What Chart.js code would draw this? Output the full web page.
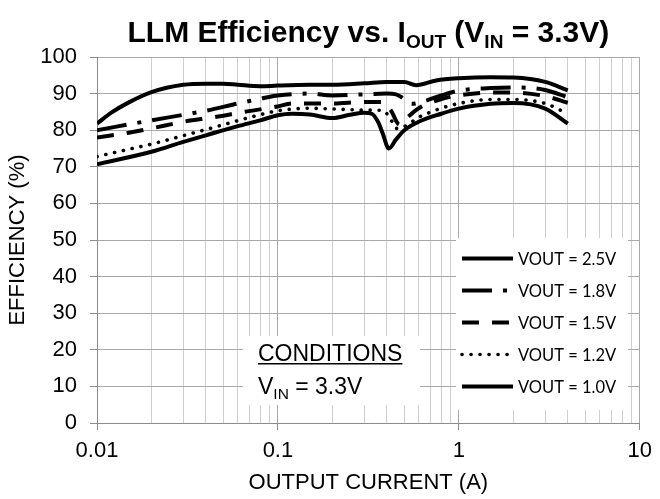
<!DOCTYPE html>
<html>
<head>
<meta charset="utf-8">
<script src="https://cdn.jsdelivr.net/npm/chart.js@4.4.1/dist/chart.umd.min.js"></script>
<style>
  html, body { margin: 0; padding: 0; background: #ffffff; }
  #wrap { width: 660px; height: 499px; }
</style>
</head>
<body>
<div id="wrap"><canvas id="c" width="660" height="499"></canvas></div>
<script>
// ---------------- data ----------------
const seriesLabels = ['VOUT = 2.5V', 'VOUT = 1.8V', 'VOUT = 1.5V', 'VOUT = 1.2V', 'VOUT = 1.0V'];

const i25 = [0.01, 0.012, 0.015, 0.02, 0.03, 0.04, 0.05, 0.06, 0.08, 0.1, 0.15, 0.2, 0.3, 0.4, 0.5, 0.58, 0.75, 1.0, 1.5, 2, 3, 4];
const e25 = [81.8, 84.8, 87.6, 90.4, 92.4, 92.7, 92.7, 92.4, 92.0, 92.2, 92.4, 92.4, 92.8, 93.2, 93.2, 92.3, 93.6, 94.2, 94.5, 94.4, 93.2, 90.9];

const i18 = [0.01, 0.02, 0.03, 0.04, 0.06, 0.08, 0.1, 0.15, 0.2, 0.3, 0.4, 0.45, 0.5, 0.55, 0.65, 0.8, 1.0, 1.5, 2, 3, 4];
const e18 = [80.0, 82.7, 84.2, 85.3, 87.3, 88.6, 89.5, 90.0, 89.5, 89.8, 90.0, 89.8, 88.5, 87.2, 88.0, 89.5, 90.8, 91.5, 91.7, 91.0, 89.0];

const i15 = [0.01, 0.015, 0.02, 0.03, 0.045, 0.065, 0.1, 0.12, 0.15, 0.2, 0.3, 0.38, 0.42, 0.47, 0.52, 0.6, 0.8, 1.0, 1.5, 2, 3, 4];
const e15 = [78.0, 79.3, 80.5, 82.3, 83.6, 85.0, 86.5, 87.3, 87.3, 87.3, 87.7, 87.7, 85.5, 81.5, 83.5, 86.0, 88.5, 89.5, 90.3, 90.3, 89.3, 87.5];

const i12 = [0.01, 0.015, 0.02, 0.03, 0.05, 0.07, 0.1, 0.15, 0.2, 0.3, 0.38, 0.42, 0.45, 0.5, 0.6, 0.8, 1.0, 1.5, 2, 3, 4];
const e12 = [72.8, 74.8, 76.2, 78.5, 81.5, 83.5, 85.3, 86.0, 85.8, 85.5, 85.4, 83.0, 80.5, 81.0, 83.5, 86.0, 87.3, 88.4, 88.4, 87.3, 84.5];

const i10 = [0.01, 0.02, 0.03, 0.04, 0.06, 0.08, 0.1, 0.12, 0.15, 0.2, 0.25, 0.3, 0.33, 0.36, 0.38, 0.41, 0.45, 0.5, 0.6, 0.8, 1.0, 1.5, 2, 3, 4];
const e10 = [70.7, 74.1, 76.8, 78.6, 81.1, 82.7, 84.1, 84.5, 84.3, 83.3, 84.2, 84.8, 84.5, 82.0, 79.0, 75.0, 77.5, 80.0, 82.3, 84.5, 85.9, 87.2, 87.4, 85.9, 81.8];

const xDecades = [0.01, 0.1, 1, 10];
const xDecadeLabels = ['0.01', '0.1', '1', '10'];
const xMinorMultipliers = [2, 3, 4, 5, 6, 7, 8, 9];
const yTickLabels = [0, 10, 20, 30, 40, 50, 60, 70, 80, 90, 100];

const conditionsTitle = 'CONDITIONS';
const conditionsLine = ['V', 'IN', ' = 3.3V'];
const titleParts = [['LLM Efficiency vs. I', false], ['OUT', true], [' (V', false], ['IN', true], [' = 3.3V)', false]];
const xTitle = 'OUTPUT CURRENT (A)';
const yTitle = 'EFFICIENCY (%)';

// ---------------- styles ----------------
const styles = [
  { dash: [], cap: 'butt', width: 4 },
  { dash: [30, 11, 4, 11], cap: 'butt', width: 4 },
  { dash: [17, 13], cap: 'butt', width: 4 },
  { dash: [0.1, 8.9], cap: 'round', width: 3.6 },
  { dash: [], cap: 'butt', width: 4 }
];

const seriesX = [i25, i18, i15, i12, i10];
const seriesY = [e25, e18, e15, e12, e10];

const datasets = seriesLabels.map((lab, k) => ({
  label: lab,
  data: seriesX[k].map((x, j) => ({ x: x, y: seriesY[k][j] })),
  borderColor: '#000000',
  backgroundColor: '#000000',
  borderWidth: styles[k].width,
  borderDash: styles[k].dash,
  borderCapStyle: styles[k].cap,
  borderJoinStyle: 'round',
  pointRadius: 0,
  fill: false,
  cubicInterpolationMode: 'monotone'
}));

const majorSet = new Set(xDecades);

// ---------------- plugins ----------------
const decorPlugin = {
  id: 'decor',
  beforeDatasetsDraw(chart) {
    const ctx = chart.ctx;
    ctx.save();
    ctx.fillStyle = '#ffffff';
    ctx.fillRect(456, 238, 172, 172);   // legend box
    ctx.fillRect(243, 336, 177, 69);    // conditions box
    ctx.restore();
  },
  afterDatasetsDraw(chart) {
    const ctx = chart.ctx;
    ctx.save();
    const x0 = 462, x1 = 513, tx = 518;
    seriesLabels.forEach((lab, k) => {
      const y = 258.5 + k * 32;
      ctx.beginPath();
      ctx.strokeStyle = '#000';
      ctx.lineWidth = styles[k].width;
      ctx.lineCap = styles[k].cap;
      ctx.setLineDash(styles[k].dash);
      ctx.moveTo(x0, y);
      ctx.lineTo(x1, y);
      ctx.stroke();
      ctx.setLineDash([]);
      ctx.fillStyle = '#000';
      ctx.font = '16.5px Lato';
      ctx.textBaseline = 'middle';
      ctx.textAlign = 'left';
      ctx.fillText(lab, tx, y + 1);
    });
    ctx.fillStyle = '#000';
    ctx.font = '23px "Liberation Sans", Arial';
    ctx.textBaseline = 'alphabetic';
    ctx.textAlign = 'left';
    const cx = 258;
    ctx.fillText(conditionsTitle, cx, 361);
    const w = ctx.measureText(conditionsTitle).width;
    ctx.fillRect(cx, 363, w, 1.5);
    let px = cx;
    ctx.fillText(conditionsLine[0], px, 394);
    px += ctx.measureText(conditionsLine[0]).width;
    ctx.font = '15.5px "Liberation Sans", Arial';
    ctx.fillText(conditionsLine[1], px, 399);
    px += ctx.measureText(conditionsLine[1]).width;
    ctx.font = '23px "Liberation Sans", Arial';
    ctx.fillText(conditionsLine[2], px, 394);
    ctx.restore();
  },
  afterDraw(chart) {
    const ctx = chart.ctx;
    ctx.save();
    const big = 'bold 30px "Liberation Sans", Arial';
    const small = 'bold 19px "Liberation Sans", Arial';
    let total = 0;
    titleParts.forEach(([t, sub]) => { ctx.font = sub ? small : big; total += ctx.measureText(t).width; });
    const area = chart.chartArea;
    let x = (area.left + area.right) / 2 - total / 2;
    const base = 42;
    ctx.fillStyle = '#000';
    ctx.textBaseline = 'alphabetic';
    ctx.textAlign = 'left';
    titleParts.forEach(([t, sub]) => {
      ctx.font = sub ? small : big;
      ctx.fillText(t, x, sub ? base + 6 : base);
      x += ctx.measureText(t).width;
    });
    ctx.restore();
  }
};

new Chart(document.getElementById('c'), {
  type: 'line',
  data: { datasets: datasets },
  options: {
    responsive: false,
    devicePixelRatio: 1,
    animation: false,
    layout: { padding: { top: 57, right: 14, bottom: 0, left: 0 } },
    plugins: { legend: { display: false }, tooltip: { enabled: false }, title: { display: false } },
    scales: {
      x: {
        type: 'logarithmic',
        min: 0.01,
        max: 10,
        afterBuildTicks(scale) {
          const t = [];
          xDecades.forEach((d, i) => {
            t.push({ value: d, major: true });
            if (i < xDecades.length - 1) xMinorMultipliers.forEach(m => t.push({ value: +(d * m).toPrecision(6), major: false }));
          });
          scale.ticks = t;
        },
        afterFit(scale) { scale.height = 76; },
        ticks: {
          autoSkip: false,
          maxRotation: 0,
          color: '#000',
          font: { family: '"Liberation Sans", Arial', size: 22 },
          padding: 8,
          callback(value) {
            const i = xDecades.indexOf(value);
            return i >= 0 ? xDecadeLabels[i] : '';
          }
        },
        grid: {
          color: (c) => (c.tick && majorSet.has(c.tick.value)) ? '#a8a8a8' : '#cfcfcf',
          tickColor: (c) => (c.tick && majorSet.has(c.tick.value)) ? '#8c8c8c' : 'rgba(0,0,0,0)',
          tickLength: 7,
          lineWidth: 1
        },
        border: { color: '#8c8c8c', width: 1 },
        title: {
          display: true,
          text: xTitle,
          color: '#000',
          font: { family: '"Liberation Sans", Arial', size: 22 },
          padding: { top: 0, bottom: 3 }
        }
      },
      y: {
        min: 0,
        max: 100,
        afterBuildTicks(scale) { scale.ticks = yTickLabels.map(v => ({ value: v })); },
        afterFit(scale) { scale.width = 97; },
        ticks: {
          color: '#000',
          font: { family: '"Liberation Sans", Arial', size: 22 },
          padding: 13
        },
        grid: {
          color: '#a8a8a8',
          tickColor: '#8c8c8c',
          tickLength: 7,
          lineWidth: 1
        },
        border: { color: '#8c8c8c', width: 1 },
        title: {
          display: true,
          text: yTitle,
          color: '#000',
          font: { family: '"Liberation Sans", Arial', size: 22 },
          padding: { top: 5, bottom: 0 }
        }
      }
    }
  },
  plugins: [decorPlugin]
});
</script>
</body>
</html>
